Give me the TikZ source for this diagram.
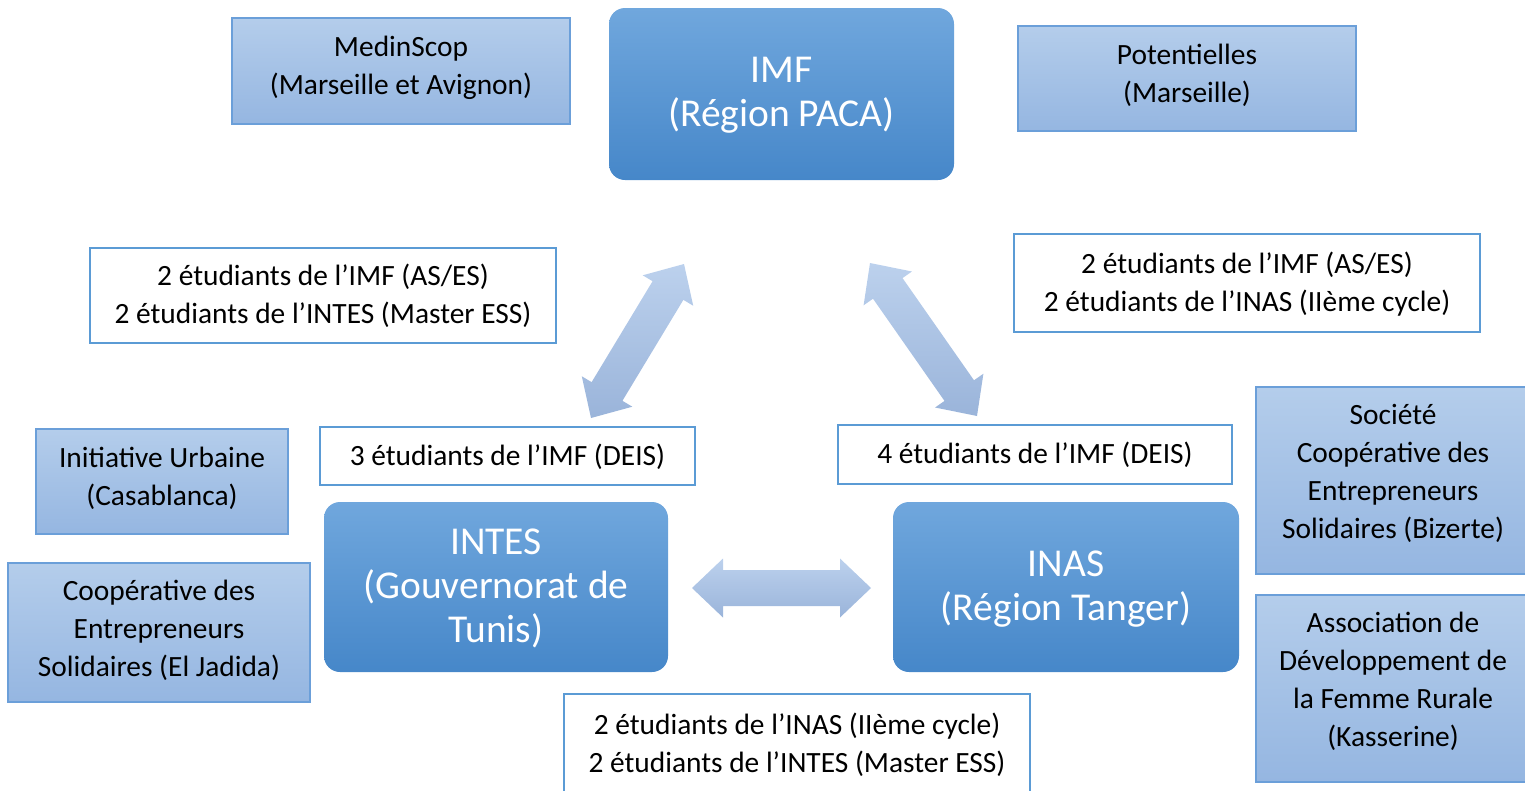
\documentclass[tikz,border=0pt]{standalone}
\usepackage{fontspec}
\setmainfont{Carlito}
\usetikzlibrary{calc}
\definecolor{lbtop}{HTML}{B4CDEB}
\definecolor{lbbot}{HTML}{95B6E1}
\definecolor{lbline}{HTML}{6B9FD9}
\definecolor{bbtop}{HTML}{70A7DD}
\definecolor{bbbot}{HTML}{4687C9}
\definecolor{wline}{HTML}{5B9BD5}
\definecolor{artop}{HTML}{BCD1ED}
\definecolor{arbot}{HTML}{9AB4DA}
\tikzset{
  lightbox/.style={draw=lbline, line width=1.5pt, top color=lbtop, bottom color=lbbot,
    inner sep=0pt, align=center, font=\fontsize{29.4}{38}\selectfont, text depth=9pt},
  bigbox/.style={rounded corners=16pt, top color=bbtop, bottom color=bbbot, text=white,
    inner sep=0pt, align=center, font=\fontsize{39.5}{44}\selectfont, text depth=3.6pt},
  whitebox/.style={draw=wline, line width=2.5pt, fill=white,
    inner sep=0pt, align=center, font=\fontsize{29.4}{38}\selectfont, text depth=3.4pt},
  blockarrow/.style={top color=artop, bottom color=arbot, draw=none}
}
\newcommand\dblarrow[2]{%
  \path[blockarrow] (#1)
    -- ($(#1)!31pt!(#2)!29.5pt!90:(#2)$)
    -- ($(#1)!31pt!(#2)!18pt!90:(#2)$)
    -- ($(#2)!31pt!(#1)!18pt!-90:(#1)$)
    -- ($(#2)!31pt!(#1)!29.5pt!-90:(#1)$)
    -- (#2)
    -- ($(#2)!31pt!(#1)!29.5pt!90:(#1)$)
    -- ($(#2)!31pt!(#1)!18pt!90:(#1)$)
    -- ($(#1)!31pt!(#2)!18pt!-90:(#2)$)
    -- ($(#1)!31pt!(#2)!29.5pt!-90:(#2)$)
    -- cycle;}
\begin{document}
\begin{tikzpicture}[x=1pt,y=-1pt]
\useasboundingbox (0,0) rectangle (1525,790);
\clip (0,0) rectangle (1525,790);

\node[lightbox, minimum width=338pt, minimum height=106pt, text depth=11pt] (medin) at (401,71)
  {MedinScop\\(Marseille et Avignon)};
\node[bigbox, minimum width=345pt, minimum height=172pt] (imf) at (781.5,94)
  {IMF\\(Région PACA)};
\node[lightbox, minimum width=338pt, minimum height=105pt, text depth=11pt] (pot) at (1187,78.5)
  {Potentielles\\(Marseille)};

\node[whitebox, minimum width=466pt, minimum height=95pt] (wl) at (323,295.5)
  {2 étudiants de l’IMF (AS/ES)\\2 étudiants de l’INTES (Master ESS)};
\node[whitebox, minimum width=466pt, minimum height=98pt] (wr) at (1247,283)
  {2 étudiants de l’IMF (AS/ES)\\2 étudiants de l’INAS (IIème cycle)};
\node[whitebox, minimum width=375pt, minimum height=58pt] (w3) at (507.5,456)
  {3 étudiants de l’IMF (DEIS)};
\node[whitebox, minimum width=394pt, minimum height=59pt] (w4) at (1035,454.5)
  {4 étudiants de l’IMF (DEIS)};

\node[lightbox, minimum width=252pt, minimum height=105pt, text depth=11pt] (iu) at (162,481.5)
  {Initiative Urbaine\\(Casablanca)};
\node[lightbox, minimum width=302pt, minimum height=139pt, text depth=7.5pt] (coop) at (159,632.5)
  {Coopérative des\\Entrepreneurs\\Solidaires (El Jadida)};

\node[bigbox, minimum width=344pt, minimum height=170pt] (intes) at (496,587)
  {INTES\\(Gouvernorat de\\Tunis)};
\node[bigbox, minimum width=346pt, minimum height=170pt] (inas) at (1066,587)
  {INAS\\(Région Tanger)};

\node[lightbox, minimum width=274pt, minimum height=187pt, text depth=19pt] (soc) at (1393,480.5)
  {Société\\Coopérative des\\Entrepreneurs\\Solidaires (Bizerte)};
\node[lightbox, minimum width=274pt, minimum height=187pt, text depth=19pt] (assoc) at (1393,688.5)
  {Association de\\Développement de\\la Femme Rurale\\(Kasserine)};

\node[whitebox, minimum width=466pt, minimum height=100pt] (wb) at (797,744)
  {2 étudiants de l’INAS (IIème cycle)\\2 étudiants de l’INTES (Master ESS)};

\coordinate (la) at (591,418);
\coordinate (lb) at (684,264);
\coordinate (ra) at (870,263);
\coordinate (rb) at (977,416);
\coordinate (ha) at (692,588);
\coordinate (hb) at (871,588);
\dblarrow{la}{lb}
\dblarrow{ra}{rb}
\dblarrow{ha}{hb}
\end{tikzpicture}
\end{document}
